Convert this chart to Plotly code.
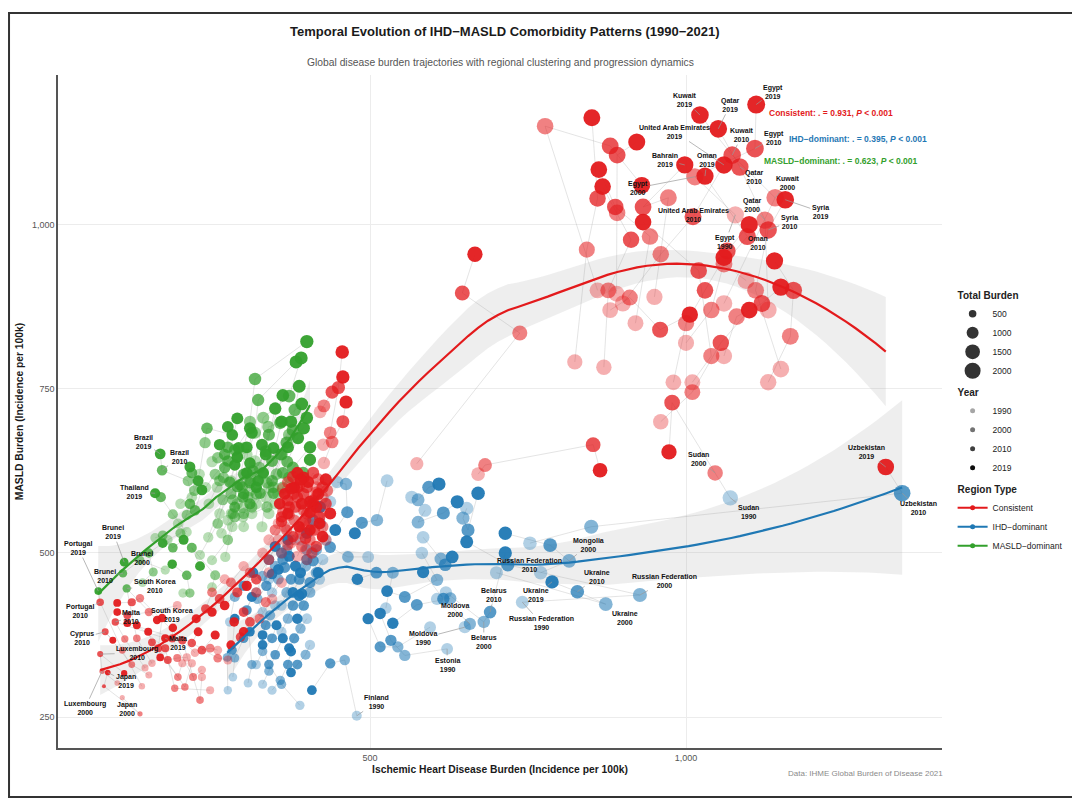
import numpy as np
import pandas as pd
import plotly.graph_objects as go

FONT = "Liberation Sans, Arial, sans-serif"

# ---- data: one entry per country (incidence per 100k) ----
countries = [
    "Egypt", "Kuwait", "Qatar", "United Arab Emirates", "Oman", "Bahrain", "Syria",
    "Saudi Arabia", "Iraq", "Iran", "Jordan", "Lebanon", "Libya", "Tunisia",
    "Algeria", "Morocco", "Yemen", "Palestine", "Turkey", "Sudan", "Uzbekistan",
    "Afghanistan", "Pakistan", "Tajikistan", "Turkmenistan", "Azerbaijan",
    "Japan", "Luxembourg", "Cyprus", "Portugal", "Malta", "South Korea", "Spain", "Italy",
    "France", "Switzerland", "Netherlands", "Belgium", "Austria", "Greece", "Israel", "Singapore",
    "Germany", "United Kingdom", "Denmark", "Sweden", "Norway", "Ireland", "Iceland",
    "United States", "Canada", "Australia", "New Zealand", "Argentina", "Chile", "Mexico",
    "Colombia", "Peru", "China", "Malaysia", "Indonesia", "Philippines", "Vietnam",
    "Brunei", "Thailand", "Brazil", "India", "Bangladesh", "Nepal", "Sri Lanka",
    "Myanmar", "Cambodia", "Laos", "Bolivia", "Ecuador", "Venezuela", "Paraguay",
    "Uruguay", "Costa Rica", "Panama", "Guatemala", "Honduras", "Nicaragua", "El Salvador",
    "Dominican Republic", "Cuba", "Jamaica", "Fiji", "Samoa", "Tonga", "Vanuatu",
    "Papua New Guinea", "Kiribati", "Maldives", "Guyana", "Suriname", "Belize", "Haiti",
    "Russian Federation", "Ukraine", "Belarus", "Moldova", "Estonia", "Finland", "Mongolia",
    "Latvia", "Lithuania", "Kazakhstan", "Georgia", "Armenia", "Kyrgyzstan", "Bulgaria",
    "Romania", "Serbia", "Hungary", "Czechia", "Poland", "Croatia", "Slovenia",
    "Bosnia and Herzegovina", "North Macedonia", "Albania", "Montenegro", "Slovakia", "Barbados", "Trinidad and Tobago",
    "Mauritius", "Seychelles", "Bahamas", "Saint Lucia", "Grenada", "Antigua and Barbuda", "Dominica", "Cape Verde",
    "Guinea", "Senegal", "Ghana", "Nigeria", "Kenya", "Ethiopia", "Tanzania", "Uganda",
    "Bhutan", "Timor-Leste", "Mauritania", "Djibouti", "Somalia", "Eritrea",
    "Saint Kitts and Nevis", "Saint Vincent", "Bermuda", "Puerto Rico", "Guam", "Marshall Islands",
]

ihd_1990 = [
    1078, 1060, 1130, 900, 1095, 950, 1150,
    890, 1010, 824, 870, 920, 1000, 980,
    1060, 1130, 960, 860, 880, 1070, 753,
    427, 421, 426, 574, 671,
    108, 100, 150, 139, 144, 155, 203, 218,
    234, 247, 234, 275, 259, 210, 223, 195,
    340, 360, 330, 355, 300, 345, 270,
    420, 405, 390, 375, 415, 398, 380,
    365, 360, 430, 400, 385, 370, 362,
    176, 210, 218, 299, 275, 244, 231,
    271, 250, 299, 313, 329, 340, 350,
    355, 340, 330, 345, 318, 305, 300,
    250, 230, 280, 200, 196, 180, 160,
    250, 204, 140, 262, 240, 282, 258,
    741, 700, 620, 650, 622, 479, 770,
    595, 606, 584, 582, 566, 587, 653,
    527, 448, 497, 525, 437, 430, 389,
    420, 410, 375, 350, 400, 283, 275,
    307, 278, 330, 345, 320, 360, 340, 320,
    300, 290, 320, 280, 265, 335, 245, 310,
    395, 382, 408, 355, 340, 425,
    425, 345, 390, 360, 330, 405,
]
masld_1990 = [
    1015, 880, 870, 880, 915, 890, 780,
    895, 760, 791, 783, 850, 820, 760,
    800, 760, 700, 900, 870, 584, 515,
    637, 715, 665, 636, 620,
    280, 302, 314, 297, 325, 332, 332, 332,
    322, 291, 311, 337, 352, 341, 348, 420,
    470, 455, 500, 520, 480, 430, 460,
    560, 545, 530, 515, 600, 505, 590,
    540, 500, 520, 490, 495, 575, 598,
    474, 532, 585, 555, 550, 524, 497,
    494, 489, 569, 560, 540, 560, 575,
    590, 600, 620, 610, 640, 650, 660,
    639, 620, 610, 575, 545, 520, 523,
    448, 439, 455, 560, 600, 540, 600,
    425, 470, 440, 387, 354, 252, 470,
    387, 430, 524, 500, 585, 565, 568,
    610, 608, 494, 416, 578, 520, 268,
    460, 500, 520, 420, 400, 311, 291,
    302, 395, 300, 291, 330, 420, 460, 440,
    540, 575, 575, 560, 530, 585, 575, 595,
    545, 520, 580, 545, 520, 585,
    490, 440, 520, 380, 410, 360,
]
ihd_2000 = [
    1014, 1141, 1125, 960, 1060, 972, 1110,
    891, 1040, 843, 877, 943, 1040, 1000,
    1080, 1165, 1010, 777, 911, 1046, 850,
    440, 427, 437, 737, 682,
    136, 76, 123, 108, 112, 131, 196, 207,
    220, 191, 231, 259, 247, 195, 136, 150,
    320, 335, 310, 340, 280, 325, 250,
    410, 395, 380, 368, 418, 405, 388,
    372, 370, 425, 408, 392, 378, 370,
    136, 188, 212, 307, 283, 267, 259,
    286, 275, 313, 337, 337, 347, 362,
    372, 358, 339, 372, 331, 318, 310,
    259, 239, 290, 222, 210, 200, 172,
    255, 215, 157, 280, 255, 300, 268,
    927, 873, 680, 658, 555, 460, 815,
    544, 627, 612, 606, 576, 576, 647,
    511, 462, 465, 536, 421, 415, 360,
    405, 398, 368, 342, 390, 286, 274,
    313, 286, 340, 358, 330, 368, 350, 330,
    320, 310, 345, 298, 283, 352, 262, 325,
    400, 390, 415, 362, 350, 432,
    415, 355, 400, 370, 322, 398,
]
masld_2000 = [
    1073, 1041, 1007, 955, 940, 1041, 900,
    1018, 800, 962, 900, 982, 870, 850,
    860, 830, 745, 1150, 889, 622, 540,
    669, 724, 683, 835, 634,
    255, 320, 330, 352, 369, 370, 311, 296,
    311, 294, 276, 340, 355, 340, 431, 410,
    440, 425, 470, 490, 455, 400, 440,
    580, 565, 550, 535, 612, 520, 602,
    558, 512, 540, 500, 510, 590, 608,
    489, 559, 610, 585, 581, 581, 545,
    555, 520, 570, 570, 607, 600, 600,
    615, 650, 692, 680, 706, 683, 700,
    645, 668, 646, 595, 558, 530, 527,
    466, 439, 471, 590, 620, 560, 615,
    436, 422, 395, 392, 344, 337, 488,
    357, 431, 491, 459, 581, 547, 553,
    550, 605, 494, 470, 545, 505, 300,
    440, 480, 505, 405, 385, 340, 341,
    330, 433, 320, 306, 350, 440, 480, 465,
    590, 610, 610, 600, 560, 620, 610, 630,
    560, 535, 592, 562, 535, 595,
    470, 460, 505, 400, 430, 345,
]
ihd_2010 = [
    1109, 1073, 1085, 1011, 1097, 932, 1130,
    891, 1020, 860, 913, 888, 1065, 1030,
    1120, 1170, 1055, 880, 959, 978, 1342,
    457, 440, 450, 646, 853,
    79, 73, 81, 73, 97, 115, 155, 165,
    187, 176, 203, 218, 234, 180, 123, 116,
    300, 310, 290, 320, 262, 295, 240,
    400, 385, 372, 360, 410, 412, 395,
    382, 378, 420, 415, 398, 385, 378,
    109, 169, 171, 310, 294, 290, 278,
    299, 286, 326, 347, 362, 369, 378,
    394, 378, 358, 381, 372, 323, 318,
    275, 242, 286, 218, 223, 215, 188,
    218, 210, 150, 300, 275, 310, 270,
    718, 828, 690, 616, 533, 437, 785,
    516, 574, 619, 555, 593, 616, 655,
    487, 464, 437, 510, 410, 400, 340,
    395, 388, 362, 335, 380, 300, 282,
    305, 300, 350, 370, 345, 375, 360, 340,
    345, 335, 360, 315, 300, 368, 270, 340,
    410, 398, 425, 370, 360, 430,
    405, 365, 410, 378, 336, 385,
]
masld_2010 = [
    1116, 1106, 1088, 1012, 982, 1027, 992,
    1106, 930, 1040, 977, 1027, 960, 900,
    880, 900, 820, 1120, 840, 729, 591,
    700, 745, 752, 896, 665,
    297, 346, 380, 425, 395, 446, 364, 355,
    370, 355, 367, 363, 352, 337, 425, 405,
    410, 395, 440, 460, 430, 372, 415,
    600, 585, 570, 555, 622, 535, 590,
    570, 525, 555, 510, 522, 600, 616,
    469, 585, 626, 607, 604, 601, 608,
    585, 570, 591, 591, 622, 639, 630,
    622, 687, 698, 718, 739, 733, 765,
    661, 690, 657, 622, 565, 575, 508,
    508, 466, 500, 620, 640, 575, 650,
    482, 441, 410, 430, 367, 332, 512,
    357, 421, 482, 433, 600, 561, 535,
    546, 562, 509, 470, 550, 490, 330,
    420, 460, 490, 390, 370, 370, 352,
    413, 450, 345, 330, 370, 460, 500, 490,
    640, 655, 650, 625, 590, 668, 630, 680,
    575, 550, 600, 580, 548, 575,
    455, 478, 488, 420, 450, 330,
]
ihd_2019 = [
    1111, 1022, 1051, 1060, 1030, 998, 1157,
    922, 932, 851, 868, 862, 1100, 1060,
    1150, 1140, 1100, 930, 1006, 973, 1316,
    462, 457, 456, 666, 864,
    85, 111, 93, 70, 176, 163, 149, 171,
    188, 131, 116, 228, 255, 168, 100, 100,
    285, 300, 270, 305, 250, 280, 225,
    395, 380, 365, 357, 402, 420, 405,
    392, 388, 415, 425, 405, 390, 385,
    111, 160, 168, 331, 305, 305, 286,
    310, 290, 329, 347, 370, 386, 405,
    405, 400, 392, 388, 391, 383, 400,
    275, 282, 310, 215, 234, 228, 205,
    231, 187, 172, 313, 290, 323, 262,
    653, 788, 714, 584, 516, 408, 714,
    497, 536, 630, 527, 609, 638, 671,
    476, 445, 421, 480, 400, 390, 330,
    385, 378, 355, 330, 372, 310, 286,
    313, 315, 362, 375, 352, 382, 370, 350,
    360, 350, 375, 335, 320, 395, 292, 362,
    418, 405, 430, 375, 370, 437,
    392, 372, 418, 388, 345, 375,
]
masld_2019 = [
    1183, 1167, 1146, 1091, 1074, 1091, 1038,
    1126, 1004, 1163, 1058, 1084, 1000, 950,
    905, 945, 870, 1060, 863, 654, 631,
    730, 768, 806, 955, 626,
    318, 317, 367, 442, 370, 398, 380, 401,
    386, 390, 393, 380, 375, 341, 424, 410,
    395, 380, 420, 450, 410, 360, 400,
    615, 600, 590, 575, 608, 545, 578,
    575, 540, 570, 525, 535, 612, 622,
    486, 591, 651, 622, 622, 661, 634,
    637, 646, 665, 660, 661, 675, 661,
    642, 706, 727, 754, 797, 791, 822,
    692, 680, 690, 631, 596, 610, 520,
    480, 483, 515, 683, 705, 610, 665,
    517, 456, 500, 471, 408, 291, 530,
    400, 393, 494, 442, 605, 578, 591,
    530, 535, 570, 460, 530, 470, 360,
    400, 440, 475, 375, 355, 380, 400,
    433, 470, 370, 350, 390, 480, 520, 510,
    700, 720, 700, 650, 600, 690, 660, 740,
    590, 562, 612, 598, 560, 560,
    438, 495, 470, 435, 468, 318,
]

# region type per country (C = Consistent, I = IHD-dominant, M = MASLD-dominant)
region_code = "".join([
    "CCCCCCC", "CCCCCCC", "CCCCCCC", "CCCCC",
    "CCCCCCCC", "CCCCCCCC", "CCCCCCC", "CCCCCCC", "CCCCCCC",
    "MMMMMMM", "MMMMMMM", "MMMMMMM", "MMMMMMM", "MMMMMMM",
    "IIIIIII", "IIIIIII", "IIIIIII", "IIIIIII", "IIIIIIII",
    "MMMMMMMM", "CCCCCC", "IIIIII",
])
type_changes = {
    ("Portugal", 2019): "M", ("South Korea", 2010): "M", ("Sudan", 1990): "I",
    ("Uzbekistan", 1990): "I", ("Uzbekistan", 2000): "I", ("Uzbekistan", 2010): "I",
}
years = [1990, 2000, 2010, 2019]
type_names = {"C": "Consistent", "I": "IHD−dominant", "M": "MASLD−dominant"}
type_colors = {"C": "#E31A1C", "I": "#1F78B4", "M": "#33A02C"}
year_alpha = {1990: 0.35, 2000: 0.55, 2010: 0.75, 2019: 0.95}
correlations = {"C": "0.931", "I": "0.395", "M": "0.623"}

# labelled points: country, year, label offset in px
labels = [
    ("Egypt", 2019, 17, -13), ("Kuwait", 2019, -15, -15), ("Qatar", 2019, 12, -24),
    ("United Arab Emirates", 2019, -49, -33), ("Kuwait", 2010, 10, -20), ("Egypt", 2010, 19, -11),
    ("Bahrain", 2019, -20, -5), ("Oman", 2019, 2, -16), ("Egypt", 2000, -57, 11),
    ("Qatar", 2010, 15, 10), ("Kuwait", 2000, 13, -15), ("Syria", 2019, 35, 12),
    ("United Arab Emirates", 2010, 1, -2), ("Qatar", 2000, -13, -15), ("Syria", 2010, 21, -8),
    ("Egypt", 1990, -10, 27), ("Oman", 2010, 11, 6), ("Sudan", 2000, -17, -14),
    ("Sudan", 1990, 18, 14), ("Uzbekistan", 2019, -19, -15), ("Uzbekistan", 2010, 16, 15),
    ("Mongolia", 2000, 19, -16), ("Russian Federation", 2010, 22, 0), ("Ukraine", 2019, -16, 13),
    ("Russian Federation", 1990, 19, 21), ("Ukraine", 2010, 20, -15), ("Ukraine", 2000, 19, 14),
    ("Russian Federation", 2000, 25, -14), ("Belarus", 2010, 4, -17), ("Belarus", 2000, 0, 20),
    ("Moldova", 2000, -15, -14), ("Moldova", 1990, -42, 11), ("Estonia", 1990, 0, 16),
    ("Finland", 1990, 20, -14), ("Brazil", 2019, -17, -12), ("Brazil", 2010, 17, -13),
    ("Thailand", 2019, -21, -1), ("Brunei", 2019, -11, -30), ("Portugal", 2019, -20, -43),
    ("Brunei", 2000, 2, -2), ("Brunei", 2010, -18, 3), ("South Korea", 2010, 28, -2),
    ("Portugal", 2010, -20, 9), ("Malta", 2010, 16, -5), ("South Korea", 2019, 15, -5),
    ("Cyprus", 2010, -23, 6), ("Malta", 2019, 13, 5), ("Luxembourg", 2010, 37, -1),
    ("Japan", 2019, 18, 9), ("Japan", 2000, -13, -5), ("Luxembourg", 2000, -17, 37),
]

n = len(countries)
for arr in [ihd_1990, masld_1990, ihd_2000, masld_2000, ihd_2010, masld_2010, ihd_2019, masld_2019, region_code]:
    assert len(arr) == n, len(arr)

ihd_by_year = {1990: ihd_1990, 2000: ihd_2000, 2010: ihd_2010, 2019: ihd_2019}
masld_by_year = {1990: masld_1990, 2000: masld_2000, 2010: masld_2010, 2019: masld_2019}
rows = []
for i, c in enumerate(countries):
    for yr in years:
        rows.append({"country": c, "year": yr,
                     "ihd": ihd_by_year[yr][i], "masld": masld_by_year[yr][i],
                     "type": type_changes.get((c, yr), region_code[i])})
df = pd.DataFrame(rows)
df["total"] = df["ihd"] + df["masld"]

tmin, tmax = df["total"].min(), df["total"].max()


def diam(v):
    return 4 + 14 * np.sqrt(np.clip((v - tmin) / (tmax - tmin), 0, 1))


def loess(x, y, grid, span=0.75):
    m = len(x)
    q = int(np.floor(m * span))

    def op(x0):
        d = np.abs(x - x0)
        h = max(np.sort(d)[q - 1], 1e-9)
        w = (1 - np.clip(d / h, 0, 1) ** 3) ** 3
        X = np.column_stack([np.ones(m), x - x0, (x - x0) ** 2])
        XtW = X.T * w
        return np.linalg.solve(XtW @ X, XtW)[0]

    L = np.array([op(v) for v in x])
    res = y - L @ y
    M = np.eye(m) - L
    sigma = np.sqrt(np.sum(res ** 2) / np.trace(M.T @ M))
    R = np.array([op(g) for g in grid])
    return R @ y, sigma * np.sqrt(np.sum(R ** 2, axis=1))


fig = go.Figure()

# trajectories
lx, ly = [], []
for c in countries:
    s = df[df.country == c].sort_values("year")
    lx += list(s.ihd) + [None]
    ly += list(s.masld) + [None]
fig.add_trace(go.Scatter(x=lx, y=ly, mode="lines", line=dict(color="rgba(170,170,170,0.45)", width=0.7),
                         hoverinfo="skip", showlegend=False))

# smoothing bands
smooth = {}
for t in ["C", "I", "M"]:
    s = df[df.type == t]
    x = s.ihd.values.astype(float)
    y = s.masld.values.astype(float)
    grid = np.linspace(x.min(), x.max(), 80)
    fit, se = loess(x, y, grid)
    smooth[t] = (grid, fit)
    fig.add_trace(go.Scatter(x=grid, y=fit - 1.96 * se, mode="lines", line=dict(width=0),
                             hoverinfo="skip", showlegend=False))
    fig.add_trace(go.Scatter(x=grid, y=fit + 1.96 * se, mode="lines", line=dict(width=0),
                             fill="tonexty", fillcolor="rgba(153,153,153,0.17)",
                             hoverinfo="skip", showlegend=False))

# points
for t in ["M", "I", "C"]:
    s = df[df.type == t]
    fig.add_trace(go.Scatter(
        x=s.ihd, y=s.masld, mode="markers",
        marker=dict(color=type_colors[t], size=diam(s.total.values),
                    opacity=[year_alpha[v] for v in s.year], line=dict(width=0)),
        text=s.country + " " + s.year.astype(str), hoverinfo="text", showlegend=False))

# smooth lines
for t in ["C", "I", "M"]:
    grid, fit = smooth[t]
    fig.add_trace(go.Scatter(x=grid, y=fit, mode="lines", line=dict(color=type_colors[t], width=2.2),
                             hoverinfo="skip", showlegend=False))

# legend entries
for k, v in enumerate([500, 1000, 1500, 2000]):
    fig.add_trace(go.Scatter(x=[None], y=[None], mode="markers", name=str(v), legendgroup="size",
                             legendgrouptitle=dict(text="<b>Total Burden</b>") if k == 0 else None,
                             marker=dict(color="#333333", size=diam(v))))
for k, yr in enumerate(years):
    fig.add_trace(go.Scatter(x=[None], y=[None], mode="markers", name=str(yr), legendgroup="year",
                             legendgrouptitle=dict(text="<b>Year</b>") if k == 0 else None,
                             marker=dict(color="black", size=5, opacity=year_alpha[yr])))
for k, t in enumerate(["C", "I", "M"]):
    fig.add_trace(go.Scatter(x=[None], y=[None], mode="lines+markers", name=type_names[t], legendgroup="type",
                             legendgrouptitle=dict(text="<b>Region Type</b>") if k == 0 else None,
                             line=dict(color=type_colors[t], width=2), marker=dict(color=type_colors[t], size=5)))

annotations = []
for c, yr, ax, ay in labels:
    r = df[(df.country == c) & (df.year == yr)].iloc[0]
    annotations.append(dict(x=r.ihd, y=r.masld, text=f"<b>{c}<br>{yr}</b>", showarrow=True,
                            arrowhead=0, arrowwidth=0.7, arrowcolor="#9a9a9a", ax=ax, ay=ay,
                            font=dict(size=7, color="#111111")))

corr_pos = {"C": (0.802, 0.9435), "I": (0.8247, 0.905), "M": (0.7964, 0.8722)}
for t in ["C", "I", "M"]:
    annotations.append(dict(xref="paper", yref="paper", x=corr_pos[t][0], y=corr_pos[t][1],
                            xanchor="left", yanchor="middle", showarrow=False,
                            text=f"<b>{type_names[t]}: . = {correlations[t]}, <i>P</i> < 0.001</b>",
                            font=dict(size=8.5, color=type_colors[t])))

annotations += [
    dict(xref="paper", yref="paper", x=0.5057, y=1.0788, showarrow=False,
         text="<b>Temporal Evolution of IHD−MASLD Comorbidity Patterns (1990−2021)</b>",
         font=dict(size=13, color="#1a1a1a")),
    dict(xref="paper", yref="paper", x=0.5, y=1.0297, showarrow=False,
         text="Global disease burden trajectories with regional clustering and progression dynamics",
         font=dict(size=10.3, color="#555555")),
    dict(xref="paper", yref="paper", x=1.003, y=-0.0475, xanchor="right", showarrow=False,
         text="Data: IHME Global Burden of Disease 2021", font=dict(size=8, color="#8a8a8a")),
]

fig.update_layout(
    width=1072, height=795,
    margin=dict(l=50, r=138, t=67, b=55, autoexpand=False),
    paper_bgcolor="white", plot_bgcolor="white",
    font=dict(family=FONT, color="#222222"),
    xaxis=dict(range=[6.3, 1405], tickvals=[500, 1000], tickformat=",", showgrid=True, automargin=False,
               gridcolor="#ececec", gridwidth=0.8, zeroline=False, showline=True,
               linecolor="#555555", linewidth=1.5, tickfont=dict(size=9, color="#555555"),
               title=dict(text="<b>Ischemic Heart Disease Burden (Incidence per 100k)</b>",
                          font=dict(size=10.3, color="#1a1a1a"), standoff=4)),
    yaxis=dict(range=[203, 1228], tickvals=[250, 500, 750, 1000], tickformat=",", showgrid=True, automargin=False,
               gridcolor="#ececec", gridwidth=0.8, zeroline=False, showline=True,
               linecolor="#555555", linewidth=1.5, tickfont=dict(size=9, color="#555555"),
               title=dict(text="<b>MASLD Burden (Incidence per 100k)</b>",
                          font=dict(size=10.3, color="#1a1a1a"), standoff=6)),
    legend=dict(x=1.012, y=0.695, xanchor="left", yanchor="top", font=dict(size=8.5),
                grouptitlefont=dict(size=10),
                traceorder="grouped", tracegroupgap=2, itemwidth=30, bgcolor="rgba(0,0,0,0)"),
    annotations=annotations,
    shapes=[dict(type="rect", xref="paper", yref="paper", x0=-0.0554, x1=1.1505, y0=-0.0728, y1=1.0921,
                 line=dict(color="#333333", width=2))],
)

fig.write_html("out.html")
